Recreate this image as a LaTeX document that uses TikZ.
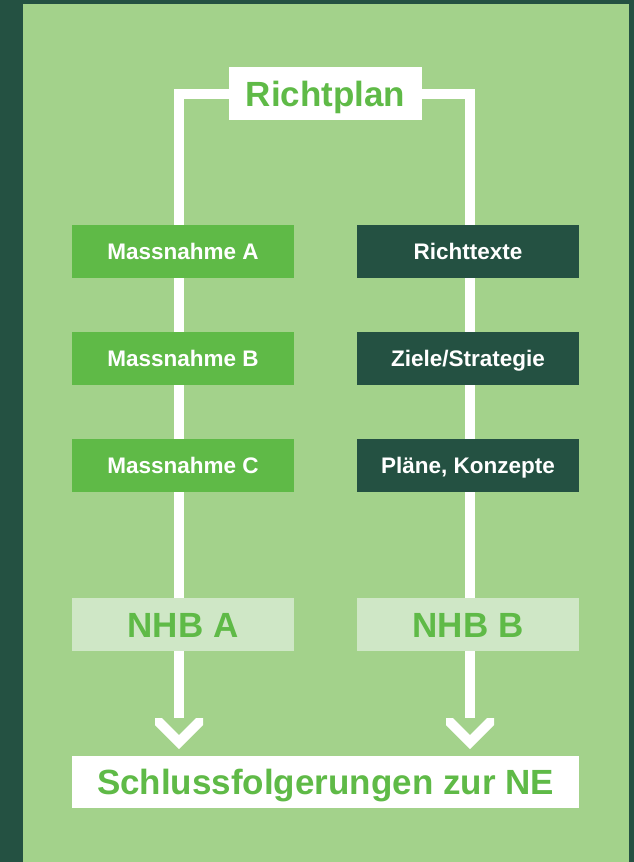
\documentclass[tikz,border=0pt]{standalone}
\usepackage{fontspec}
\setmainfont{Liberation Sans}
\usetikzlibrary{positioning,backgrounds}
\definecolor{rpdark}{HTML}{245142}
\definecolor{rplight}{HTML}{A3D28B}
\definecolor{rpgreen}{HTML}{5FBA47}
\definecolor{rppale}{HTML}{CFE7C6}

\begin{document}
\begin{tikzpicture}[
  x=1pt, y=-1pt,
  node distance = 54pt and 63pt,
  box/.style     = {minimum width=222pt, minimum height=53pt, inner sep=0pt,
                    outer sep=0pt, fill=#1, text=white,
                    text height=16.2pt, text depth=0pt,
                    font=\fontsize{22.5}{26}\selectfont\bfseries},
  nhb/.style     = {box=rppale, text=rpgreen, text height=25.2pt,
                    font=\fontsize{35}{40}\selectfont\bfseries},
  title/.style   = {fill=white, text=rpgreen, inner sep=0pt, outer sep=0pt,
                    text height=25.2pt, text depth=0pt,
                    font=\fontsize{35}{40}\selectfont\bfseries},
  frame/.style   = {draw=white, line width=10pt},
  chevron/.style = {fill=white}
]

% ── Nodes ─────────────────────────────────────────────────────────────────────
\node[title, minimum width=193pt, minimum height=53pt] (richtplan) at (325.5,93.5) {Richtplan};

\node[box=rpgreen] (massA) at (183,251.5) {Massnahme A};
\node[box=rpgreen, below=of massA] (massB) {Massnahme B};
\node[box=rpgreen, below=of massB] (massC) {Massnahme C};
\node[nhb, below=106pt of massC]   (nhbA)  {NHB A};

\node[box=rpdark, right=of massA]  (texte)  {Richttexte};
\node[box=rpdark, right=of massB]  (ziele)  {Ziele/Strategie};
\node[box=rpdark, right=of massC]  (plaene) {Pläne, Konzepte};
\node[nhb, right=of nhbA]          (nhbB)   {NHB B};

\node[title, minimum width=507pt, minimum height=52pt] (schluss) at (325.5,782) {Schlussfolgerungen zur NE};

\coordinate (endL) at (179,718);
\coordinate (endR) at (470,718);

% ── Frame lines ───────────────────────────────────────────────────────────────
\begin{pgfonlayer}{background}
  \fill[rpdark]  (0,0) rectangle (634,862);
  \fill[rplight] (23,4) rectangle (629,862);
  \draw[frame] (richtplan.west) -| (endL);
  \draw[frame] (richtplan.east) -| (endR);
\end{pgfonlayer}

% ── Arrow heads ───────────────────────────────────────────────────────────────
\foreach \c in {endL, endR}
  \fill[chevron] (\c) ++(-24,0) -- ++(0,7) -- ++(24,24) -- ++(24,-24)
    -- ++(0,-7) -- ++(-7,0) -- ++(-17,17) -- ++(-17,-17) -- cycle;

\end{tikzpicture}
\end{document}
